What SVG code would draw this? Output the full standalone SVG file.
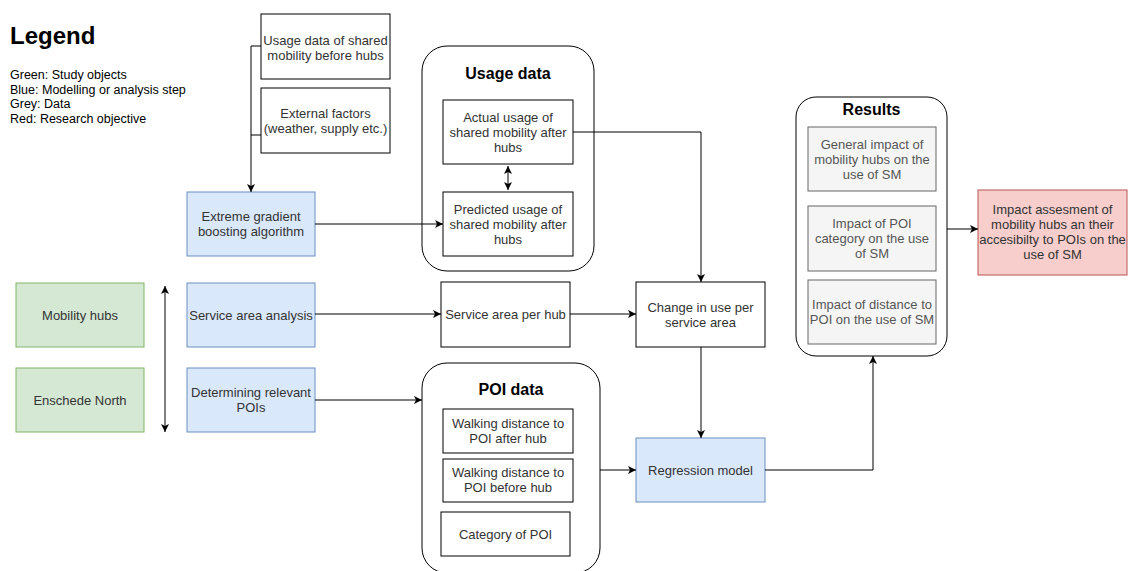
<svg xmlns="http://www.w3.org/2000/svg" width="1128" height="571" viewBox="0 0 1128 571">
<defs>
<marker id="arr" markerWidth="10" markerHeight="10" refX="9" refY="5" orient="auto" markerUnits="userSpaceOnUse">
<path d="M1,1 L9,5 L1,9 L3,5 Z" fill="#000"/>
</marker>
<marker id="arrs" markerWidth="10" markerHeight="10" refX="1" refY="5" orient="auto" markerUnits="userSpaceOnUse">
<path d="M9,1 L1,5 L9,9 L7,5 Z" fill="#000"/>
</marker>
<style>
text{font-family:"Liberation Sans",Arial,sans-serif;font-size:13px;fill:#333;text-anchor:middle}
.w{fill:#fff;stroke:#000;stroke-width:1}
.c{fill:#fff;stroke:#000;stroke-width:1}
.b{fill:#dae8fc;stroke:#6c8ebf;stroke-width:1}
.g{fill:#d5e8d4;stroke:#82b366;stroke-width:1}
.gr{fill:#f5f5f5;stroke:#666;stroke-width:1}
.r{fill:#f8cecc;stroke:#b85450;stroke-width:1}
.t{font-weight:bold;font-size:16px;fill:#000}
.gt{fill:#555}
.e{fill:none;stroke:#000;stroke-width:1}
.lg{text-anchor:start;font-size:12.5px;fill:#000}
</style>
</defs>
<rect width="1128" height="571" fill="#fff"/>

<g id="legend">
<text x="10" y="44" style="text-anchor:start;font-size:24px;font-weight:bold;fill:#000">Legend</text>
<text class="lg" x="10" y="79">Green: Study objects</text>
<text class="lg" x="10" y="93.5">Blue: Modelling or analysis step</text>
<text class="lg" x="10" y="108">Grey: Data</text>
<text class="lg" x="10" y="122.5">Red: Research objective</text>
</g>

<g id="usage-before"><rect class="w" x="261" y="14" width="129" height="65"/>
<text x="325.5" y="44.5">Usage data of shared</text><text x="325.5" y="59.5">mobility before hubs</text></g>
<g id="external"><rect class="w" x="261" y="88" width="129" height="65"/>
<text x="325.5" y="117.5">External factors</text><text x="325.5" y="132.5">(weather, supply etc.)</text></g>

<g id="xgb"><rect class="b" x="187" y="192" width="128" height="64"/>
<text x="251" y="221">Extreme gradient</text><text x="251" y="236">boosting algorithm</text></g>
<g id="service-analysis"><rect class="b" x="187" y="283" width="128" height="64"/>
<text x="251" y="319.5">Service area analysis</text></g>
<g id="poi-determine"><rect class="b" x="187" y="368" width="128" height="64"/>
<text x="251" y="397">Determining relevant</text><text x="251" y="412">POIs</text></g>

<g id="mobility-hubs"><rect class="g" x="16" y="283" width="128" height="64"/>
<text x="80" y="319.5">Mobility hubs</text></g>
<g id="enschede"><rect class="g" x="16" y="368" width="128" height="64"/>
<text x="80" y="404.5">Enschede North</text></g>

<g id="usage-data"><rect class="c" x="422" y="46" width="172" height="225" rx="25"/>
<text class="t" x="508" y="79">Usage data</text></g>
<g id="actual"><rect class="w" x="443" y="100" width="130" height="64"/>
<text x="508" y="121.5">Actual usage of</text><text x="508" y="136.5">shared mobility after</text><text x="508" y="151.5">hubs</text></g>
<g id="predicted"><rect class="w" x="443" y="192" width="130" height="64"/>
<text x="508" y="213.5">Predicted usage of</text><text x="508" y="228.5">shared mobility after</text><text x="508" y="243.5">hubs</text></g>

<g id="service-area"><rect class="w" x="441" y="282" width="129" height="65"/>
<text x="505.5" y="319">Service area per hub</text></g>
<g id="change"><rect class="w" x="636" y="282" width="129" height="65"/>
<text x="700.5" y="311.5">Change in use per</text><text x="700.5" y="326.5">service area</text></g>

<g id="poi-data"><rect class="c" x="422" y="363" width="178" height="210" rx="25"/>
<text class="t" x="511" y="395">POI data</text></g>
<g id="walk-after"><rect class="w" x="443" y="409" width="130" height="44"/>
<text x="508" y="428">Walking distance to</text><text x="508" y="443">POI after hub</text></g>
<g id="walk-before"><rect class="w" x="443" y="459" width="130" height="43"/>
<text x="508" y="477">Walking distance to</text><text x="508" y="492">POI before hub</text></g>
<g id="category"><rect class="w" x="441" y="512" width="129" height="44"/>
<text x="505.5" y="538.5">Category of POI</text></g>

<g id="regression"><rect class="b" x="636" y="438" width="129" height="64"/>
<text x="700.5" y="474.5">Regression model</text></g>

<g id="results"><rect class="c" x="796" y="97" width="151" height="259" rx="20"/>
<text class="t" x="871.5" y="115">Results</text></g>
<g id="general"><rect class="gr" x="808" y="127" width="128" height="64"/>
<text class="gt" x="872" y="148.5">General impact of</text><text class="gt" x="872" y="163.5">mobility hubs on the</text><text class="gt" x="872" y="178.5">use of SM</text></g>
<g id="poi-cat-impact"><rect class="gr" x="808" y="206" width="128" height="65"/>
<text class="gt" x="872" y="228">Impact of POI</text><text class="gt" x="872" y="243">category on the use</text><text class="gt" x="872" y="258">of SM</text></g>
<g id="dist-impact"><rect class="gr" x="808" y="280" width="128" height="64"/>
<text class="gt" x="872" y="309">Impact of distance to</text><text class="gt" x="872" y="324">POI on the use of SM</text></g>

<g id="objective"><rect class="r" x="978" y="190" width="149" height="85"/>
<text x="1052.5" y="214">Impact assesment of</text><text x="1052.5" y="229">mobility hubs an their</text><text x="1052.5" y="244">accesibilty to POIs on the</text><text x="1052.5" y="259">use of SM</text></g>

<g id="connectors">
<path class="e" d="M261,46 H251 V192" marker-end="url(#arr)"/>
<path class="e" d="M261,135 H251"/>
<path class="e" d="M315,224 H443" marker-end="url(#arr)"/>
<path class="e" d="M508,166 V190" marker-start="url(#arrs)" marker-end="url(#arr)"/>
<path class="e" d="M573,132 H701 V282" marker-end="url(#arr)"/>
<path class="e" d="M315,314 H441" marker-end="url(#arr)"/>
<path class="e" d="M570,314 H636" marker-end="url(#arr)"/>
<path class="e" d="M701,347 V438" marker-end="url(#arr)"/>
<path class="e" d="M315,400 H422" marker-end="url(#arr)"/>
<path class="e" d="M600,470 H636" marker-end="url(#arr)"/>
<path class="e" d="M765,470 H873 V356" marker-end="url(#arr)"/>
<path class="e" d="M947,229 H978" marker-end="url(#arr)"/>
<path class="e" d="M165,286 V432" marker-start="url(#arrs)" marker-end="url(#arr)"/>
</g>
</svg>
